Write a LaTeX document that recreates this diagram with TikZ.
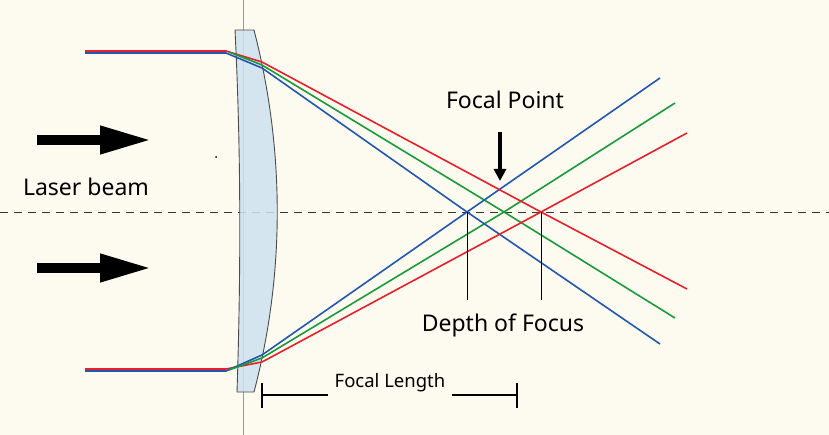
\documentclass[tikz,border=0pt]{standalone}
\usepackage{fontspec}
\setmainfont{Noto Sans}
\usetikzlibrary{positioning,arrows.meta}
\definecolor{paper}{HTML}{FDFAF0}
\definecolor{lensblue}{HTML}{CFE2F0}
\definecolor{rred}{HTML}{E8202A}
\definecolor{rgreen}{HTML}{1A9A3A}
\definecolor{rblue}{HTML}{2257B0}
\begin{document}
\begin{tikzpicture}
    [x=1pt,y=-1pt,
    ray/.style={line width=1.6pt},
    label/.style={font=\fontsize{23}{27}\selectfont,inner sep=0pt},
    bigarrow/.style={line width=10pt,-{Triangle[length=52pt,width=26pt]}},
    ]
    \fill[paper] (0,0) rectangle (829,435);
    \useasboundingbox (0,0) rectangle (829,435);

    % axis and lens
    \draw[gray!80,line width=0.8pt] (243,0) -- (243,435);
    \draw[dashed,gray!40!black,line width=0.8pt,dash pattern=on 8pt off 6pt] (0,212) -- (829,212);
    \draw[gray!60!black,line width=0.9pt,fill=lensblue,fill opacity=0.85]
        (235,30) -- (254,30) .. controls (285,150) and (285,274) .. (254,392)
        -- (237,392) .. controls (241,270) and (241,150) .. (235,30) -- cycle;

    % incoming beams
    \draw[ray,rred] (85,51) -- (226,51) -- (262,62);
    \draw[ray,rblue] (85,53) -- (226,53) -- (262,68);
    \draw[ray,rgreen] (229,52) -- (262,65);
    \draw[ray,rred] (85,369) -- (226,369) -- (262,362);
    \draw[ray,rblue] (85,371) -- (226,371) -- (262,355);
    \draw[ray,rgreen] (229,370) -- (262,358);

    % crossing points
    \coordinate (fblue) at (467,212);
    \coordinate (fgreen) at (504,212);
    \coordinate (fred) at (541,212);
    \coordinate (nred) at (687,133);
    \coordinate (ngreen) at (675,103);
    \coordinate (nblue) at (660,78);
    \coordinate (sred) at (687,289);
    \coordinate (sgreen) at (675,318);
    \coordinate (sblue) at (660,344);
    \draw[ray,rgreen] (262,65) -- (fgreen) -- (sgreen);
    \draw[ray,rgreen] (262,358) -- (fgreen) -- (ngreen);
    \draw[ray,rblue] (262,68) -- (fblue) -- (sblue);
    \draw[ray,rblue] (262,355) -- (fblue) -- (nblue);
    \draw[ray,rred] (262,62) -- (fred) -- (sred);
    \draw[ray,rred] (262,362) -- (fred) -- (nred);

    % depth of focus
    \coordinate (dblue) at (467,300);
    \coordinate (dred) at (541,300);
    \draw[line width=0.9pt] (fblue) -- (dblue);
    \draw[line width=0.9pt] (fred) -- (dred);
    \node[label] at (503,325) (depth) {Depth of Focus};

    % focal point
    \node[label] at (505,100) (fpoint) {Focal Point};
    \coordinate (ftip) at (500,181);
    \draw[line width=3.5pt,-{Triangle[length=12pt,width=12pt]}] (500,132) -- (ftip);

    % laser beam
    \node[label] at (86,187) (laser) {Laser beam};
    \draw[bigarrow] (37,140) -- (152,140);
    \draw[bigarrow] (37,268) -- (152,268);
    \fill (216,157) circle (1pt);

    % focal length
    \node[font=\fontsize{18.5}{22}\selectfont,inner sep=2pt] at (390,383) (flen) {Focal Length};
    \coordinate (fl) at (262,395);
    \coordinate (fr) at (517,395);
    \draw[line width=1.6pt] (fl) -- (328,395);
    \draw[line width=1.6pt] (452,395) -- (fr);
    \draw[line width=1.6pt] (262,383) -- (262,408);
    \draw[line width=1.6pt] (517,383) -- (517,408);
\end{tikzpicture}
\end{document}
